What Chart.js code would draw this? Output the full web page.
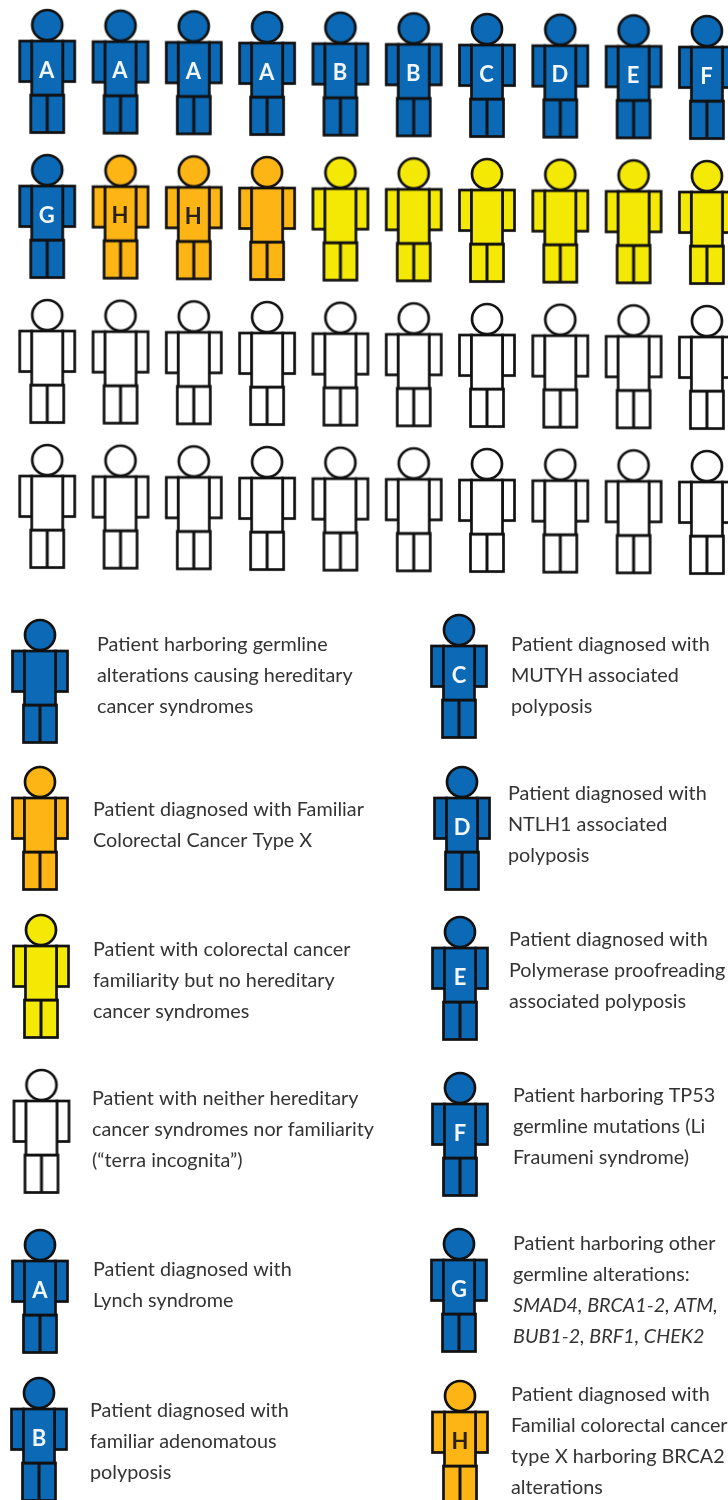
<!DOCTYPE html>
<html>
<head>
<meta charset="utf-8">
<style>
html,body{margin:0;padding:0;background:#fff}
canvas{display:block;filter:blur(0.3px)}
</style>
<script src="https://cdn.jsdelivr.net/npm/chart.js@4"></script>
</head>
<body>
<canvas id="c" width="728" height="1500"></canvas>
<script>
// ---- data: one code per patient, four rows of ten ----
const row1 = ['A','A','A','A','B','B','C','D','E','F'];
const row2 = ['G','H','H','X','Y','Y','Y','Y','Y','Y'];
const row3 = ['N','N','N','N','N','N','N','N','N','N'];
const row4 = ['N','N','N','N','N','N','N','N','N','N'];
const patientRows = [row1, row2, row3, row4];

const keyCodes = ['U','X','Y','N','A','B','C','D','E','F','G','H'];
const keyTexts = [
  ['Patient harboring germline','alterations causing hereditary','cancer syndromes'],
  ['Patient diagnosed with Familiar','Colorectal Cancer Type X'],
  ['Patient with colorectal cancer','familiarity but no hereditary','cancer syndromes'],
  ['Patient with neither hereditary','cancer syndromes nor familiarity','(“terra incognita”)'],
  ['Patient diagnosed with','Lynch syndrome'],
  ['Patient diagnosed with','familiar adenomatous','polyposis'],
  ['Patient diagnosed with','MUTYH associated','polyposis'],
  ['Patient diagnosed with','NTLH1 associated','polyposis'],
  ['Patient diagnosed with','Polymerase proofreading','associated polyposis'],
  ['Patient harboring TP53','germline mutations (Li','Fraumeni syndrome)'],
  ['Patient harboring other','germline alterations:','*SMAD4, BRCA1-2, ATM,','*BUB1-2, BRF1, CHEK2'],
  ['Patient diagnosed with','Familial colorectal cancer','type X harboring BRCA2','alterations']
];

// ---- styles and layout ----
const BLUE='#0b69b5', ORANGE='#fdb515', YELLOW='#f4e805', WHITE='#ffffff', INK='#111111', TEXT='#333333';
const fills = {A:BLUE,B:BLUE,C:BLUE,D:BLUE,E:BLUE,F:BLUE,G:BLUE,U:BLUE,H:ORANGE,X:ORANGE,Y:YELLOW,N:WHITE};
const letterCodes = 'ABCDEFGH';
const FONT = 'Lato, "Open Sans", sans-serif';
const ROW_DRIFT = 0.0046;          // the grid sits very slightly rotated
// key swatch head position, text left edge, and first line centre
const keyLayout = [
  [40,635,97,645],[40,782,93,810],[41,930,93,950],[41.5,1085,92,1099],[40,1245,93,1270],[39,1393,90,1411],
  [459,630,511,645],[462,782,508,794],[460,932,509,940],[460,1088,513,1096],[459,1244,513,1244],[460,1396,511,1395]
];
const LINE_GAP = 30.8;

function figure(fill){
  const W=62,H=128,c=document.createElement('canvas');
  c.width=W;c.height=H;
  const g=c.getContext('2d'),cx=31;
  g.lineJoin='miter';g.fillStyle=fill;g.strokeStyle=INK;g.lineWidth=2.7;
  const rect=(x,y,w,h)=>{g.fillRect(x,y,w,h);g.strokeRect(x,y,w,h);};
  rect(cx-27.5,34,12,40.5);
  rect(cx+15.5,34,12,40.5);
  rect(cx-16.5,88,33,37.5);
  rect(cx-15.5,34,31,54);
  g.beginPath();g.moveTo(cx,88);g.lineTo(cx,125.5);g.lineWidth=3;g.stroke();g.lineWidth=2.7;
  g.beginPath();g.arc(cx,18,15,0,Math.PI*2);g.fill();g.stroke();
  return c;
}
const sprites={};
Object.keys(fills).forEach(k=>sprites[k]=figure(fills[k]));

function drawLetter(ctx,code,x,y){
  if(!letterCodes.includes(code))return;
  ctx.save();
  ctx.font='bold 22px '+FONT;
  ctx.textAlign='center';ctx.textBaseline='middle';
  ctx.fillStyle=code==='H'?'#2a2113':'#f2f6fb';
  ctx.fillText(code,x,y);
  ctx.restore();
}

const points=[],codes=[];
patientRows.forEach((r,ri)=>r.forEach((code,ci)=>{
  points.push({x:ci,y:ri+ci*ROW_DRIFT});
  codes.push(code);
}));

const patientLabels={
  id:'patientLabels',
  afterDatasetsDraw(chart){
    const ctx=chart.ctx;
    chart.getDatasetMeta(0).data.forEach((el,i)=>drawLetter(ctx,codes[i],el.x-0.5,el.y-0.5));
  }
};
const patientKey={
  id:'patientKey',
  afterDraw(chart){
    const ctx=chart.ctx;
    ctx.save();
    keyCodes.forEach((code,i)=>{
      const [hx,hy,tx,ty]=keyLayout[i];
      ctx.drawImage(sprites[code],hx-31,hy-18);
      drawLetter(ctx,code,hx,hy+46);
      ctx.fillStyle=TEXT;ctx.textAlign='left';ctx.textBaseline='middle';
      keyTexts[i].forEach((line,j)=>{
        const it=line[0]==='*';
        ctx.font=(it?'italic ':'')+'19.8px '+FONT;
        ctx.fillText(it?line.slice(1):line,tx,ty+j*LINE_GAP);
      });
    });
    ctx.restore();
  }
};

new Chart(document.getElementById('c'),{
  type:'scatter',
  data:{datasets:[{
    label:'Patients',
    data:points,
    pointStyle:codes.map(c=>sprites[c]),
    pointRadius:30,
    pointHoverRadius:30,
    clip:false
  }]},
  options:{
    responsive:false,animation:false,devicePixelRatio:1,
    layout:{padding:0,autoPadding:false},
    plugins:{legend:{display:false},tooltip:{enabled:false},title:{display:false}},
    scales:{
      x:{type:'linear',display:false,min:-0.644,max:9.288},
      y:{type:'linear',display:false,reverse:true,min:-0.4897,max:9.855}
    }
  },
  plugins:[patientLabels,patientKey]
});
</script>
</body>
</html>
